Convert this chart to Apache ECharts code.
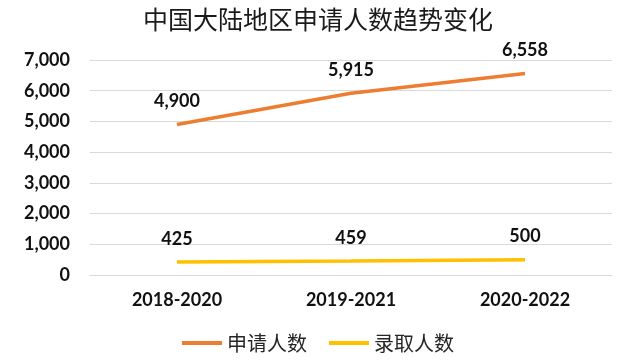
<!DOCTYPE html>
<html><head><meta charset="utf-8">
<script src="https://cdn.jsdelivr.net/npm/echarts@6/dist/echarts.min.js"></script>
<style>html,body{margin:0;padding:0;background:#fff}#c{width:636px;height:360px}</style>
</head><body><div id="c"></div>
<script>
const titleText = '中国大陆地区申请人数趋势变化';
const categories = ['2018-2020', '2019-2021', '2020-2022'];
const applicants = [4900, 5915, 6558];
const admitted = [425, 459, 500];
const seriesNames = ['申请人数', '录取人数'];

const chart = echarts.init(document.getElementById('c'));
const numFmt = v => Number(v).toLocaleString('en-US');
const labelStyle = {show: true, position: 'top', distance: 14, fontFamily: 'Lato, sans-serif', fontWeight: 'bold', fontSize: 18, color: '#111', formatter: p => numFmt(p.value)};
chart.setOption({
  animation: false,
  title: {text: titleText, left: 'center', top: 2, textStyle: {fontFamily: 'Noto Sans CJK SC', fontWeight: 'normal', fontSize: 25, color: '#1a1a1a'}},
  grid: {left: 90, right: 24, top: 60, bottom: 85},
  legend: {bottom: 2, left: 'center', itemWidth: 40, itemHeight: 4, itemGap: 22, icon: 'rect',
    textStyle: {fontFamily: 'Noto Sans CJK SC', fontSize: 20, color: '#262626'}, data: seriesNames},
  xAxis: {type: 'category', data: categories, boundaryGap: true,
    axisLine: {show: true, lineStyle: {color: '#d9d9d9'}}, axisTick: {show: false},
    axisLabel: {margin: 16, fontFamily: 'Lato, sans-serif', fontWeight: 'bold', fontSize: 18, color: '#111'}},
  yAxis: {type: 'value', min: 0, max: 7000, interval: 1000,
    axisLine: {show: false}, axisTick: {show: false},
    splitLine: {lineStyle: {color: '#d9d9d9', width: 1}},
    axisLabel: {margin: 20, fontFamily: 'Lato, sans-serif', fontWeight: 'bold', fontSize: 18, color: '#111', formatter: v => numFmt(v)}},
  series: [
    {name: seriesNames[0], type: 'line', data: applicants, symbol: 'circle', symbolSize: 0, showSymbol: true, lineStyle: {color: '#ED7D31', width: 3.5}, itemStyle: {color: '#ED7D31'}, label: labelStyle},
    {name: seriesNames[1], type: 'line', data: admitted, symbol: 'circle', symbolSize: 0, showSymbol: true, lineStyle: {color: '#FFC000', width: 3.5}, itemStyle: {color: '#FFC000'}, label: labelStyle}
  ]
});
</script></body></html>
